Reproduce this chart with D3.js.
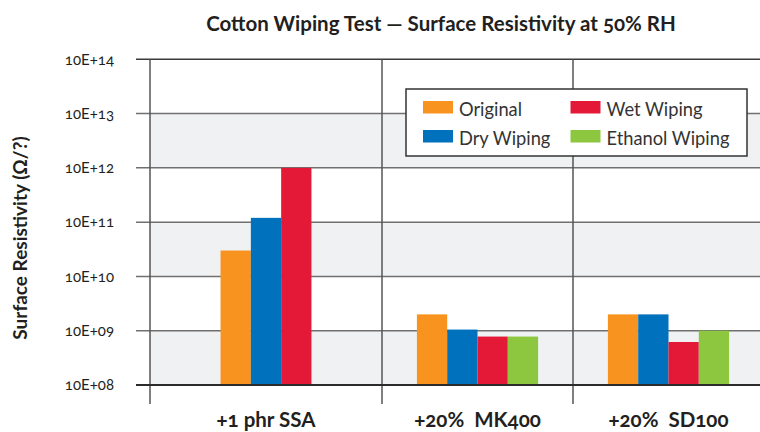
<!doctype html>
<html>
<head>
<meta charset="utf-8">
<script src="https://d3js.org/d3.v7.min.js"></script>
<style>
  body { margin: 0; background: #fff; }
  svg text { font-family: Lato, "Open Sans", sans-serif; font-variant-numeric: oldstyle-nums; fill: #231f20; }
</style>
</head>
<body>
<svg width="760" height="432"></svg>
<script>
// data
var categories = ["+1 phr SSA", "+20%  MK400", "+20%  SD100"];
var seriesNames = ["Original", "Dry Wiping", "Wet Wiping", "Ethanol Wiping"];
var original = [3.0e10, 2.0e9, 2.0e9];
var dryWiping = [1.2e11, 1.05e9, 2.0e9];
var wetWiping = [1.0e12, 7.8e8, 6.2e8];
var ethanolWiping = [null, 7.8e8, 1.0e9];
var yTickValues = [1e8, 1e9, 1e10, 1e11, 1e12, 1e13, 1e14];
var yTickLabels = ["10E+08", "10E+09", "10E+10", "10E+11", "10E+12", "10E+13", "10E+14"];

var colors = ["#f7931e", "#0071bc", "#e31937", "#8dc63f"];
var seriesValues = [original, dryWiping, wetWiping, ethanolWiping];

var svg = d3.select("svg");

var top_ = 59.3, bottom = 385, left = 150, right = 764;

var y = d3.scaleLog().domain([1e8, 1e14]).range([bottom, top_]);
// category edges (first category is wider in the original chart)
var xEdge = d3.scaleLinear().domain([0, 1, 2, 3]).range([left, 382, 573, right]);
var barW = 30.3;

// shaded bands
var bands = [[1e8, 1e9], [1e10, 1e11], [1e12, 1e13]];
svg.selectAll(".band")
    .data(bands)
    .enter().append("rect")
    .attr("x", left)
    .attr("width", 760 - left)
    .attr("y", function(d) { return y(d[1]); })
    .attr("height", function(d) { return y(d[0]) - y(d[1]); })
    .attr("fill", "#f0f1f3");

// gridlines + ticks
svg.selectAll(".grid")
    .data(yTickValues)
    .enter().append("line")
    .attr("x1", 136)
    .attr("x2", 760)
    .attr("y1", function(d) { return y(d); })
    .attr("y2", function(d) { return y(d); })
    .attr("stroke", function(d) { return d == 1e8 ? "#2b2b2b" : (d == 1e14 ? "#3a3a3a" : "#707070"); })
    .attr("stroke-width", function(d) { return d == 1e8 ? 2.2 : 1.5; });

// vertical separators
svg.selectAll(".sep")
    .data([0, 1, 2])
    .enter().append("line")
    .attr("x1", function(d) { return xEdge(d); })
    .attr("x2", function(d) { return xEdge(d); })
    .attr("y1", top_)
    .attr("y2", 404)
    .attr("stroke", "#555")
    .attr("stroke-width", 1.5);

// bars
categories.forEach(function(cat, i) {
    var present = [];
    seriesValues.forEach(function(vals, s) { if (vals[i] != null) present.push(s); });
    var c = (xEdge(i) + xEdge(i + 1)) / 2;
    var inner = d3.scaleBand().domain(present).range([c - present.length * barW / 2, c + present.length * barW / 2]);
    svg.append("g").selectAll("rect")
        .data(present)
        .enter().append("rect")
        .attr("x", function(s) { return inner(s); })
        .attr("width", inner.bandwidth())
        .attr("y", function(s) { return y(seriesValues[s][i]); })
        .attr("height", function(s) { return y(1e8) - y(seriesValues[s][i]); })
        .attr("fill", function(s) { return colors[s]; });

    svg.append("text")
        .attr("x", c)
        .attr("y", 427)
        .attr("text-anchor", "middle")
        .style("white-space", "pre")
        .attr("font-size", "20.5px")
        .attr("font-weight", "bold")
        .text(cat);
});

// baseline on top of bars
svg.append("line")
    .attr("x1", 136).attr("x2", 760)
    .attr("y1", y(1e8)).attr("y2", y(1e8))
    .attr("stroke", "#2b2b2b").attr("stroke-width", 2.2);

// y tick labels
svg.selectAll(".ylab")
    .data(yTickValues)
    .enter().append("text")
    .attr("x", 114)
    .attr("y", function(d) { return y(d); })
    .attr("dy", "0.35em")
    .attr("text-anchor", "end")
    .attr("font-size", "15px")
    .text(function(d, i) { return yTickLabels[i]; });

// y title
svg.append("text")
    .attr("transform", "translate(27,238) rotate(-90)")
    .attr("text-anchor", "middle")
    .attr("font-size", "19px")
    .attr("font-weight", "bold")
    .text("Surface Resistivity (Ω/?)");

// title
svg.append("text")
    .attr("x", 441)
    .attr("y", 31)
    .attr("text-anchor", "middle")
    .attr("font-size", "20.5px")
    .attr("font-weight", "bold")
    .text("Cotton Wiping Test — Surface Resistivity at 50% RH");

// legend
var legend = svg.append("g");
legend.append("rect")
    .attr("x", 406).attr("y", 89)
    .attr("width", 341).attr("height", 67)
    .attr("fill", "#fff")
    .attr("stroke", "#333")
    .attr("stroke-width", 1.5);

var items = legend.selectAll(".item")
    .data(seriesNames)
    .enter().append("g")
    .attr("transform", function(d, i) {
        return "translate(" + (423 + Math.floor(i / 2) * 147.5) + "," + (101 + (i % 2) * 29) + ")";
    });
items.append("rect")
    .attr("width", 30).attr("height", 12.5)
    .attr("fill", function(d, i) { return colors[i]; });
items.append("text")
    .attr("x", 36)
    .attr("y", 14.5)
    .attr("font-size", "18.3px")
    .style("fill", "#333")
    .text(function(d) { return d; });
</script>
</body>
</html>
